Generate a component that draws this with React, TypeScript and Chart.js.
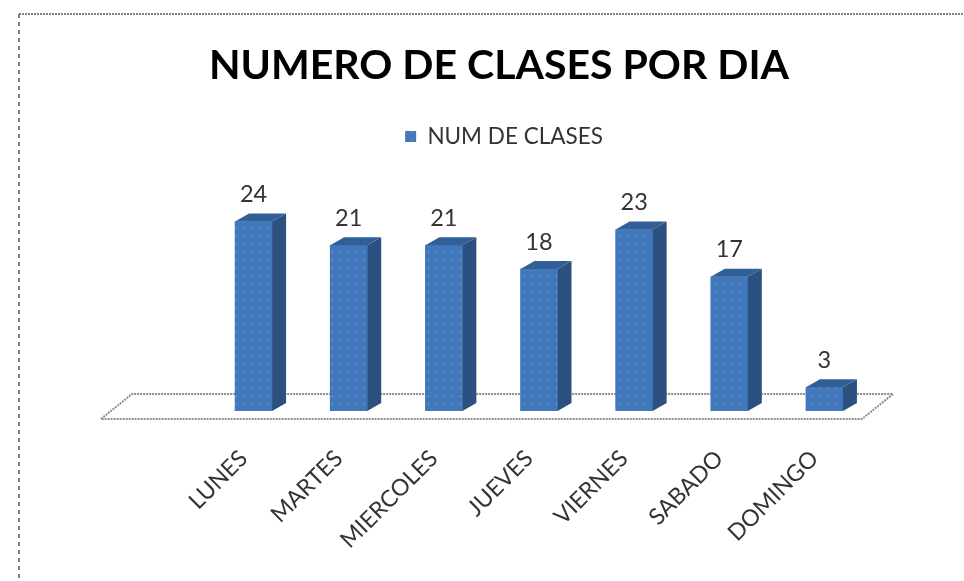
import React, { useEffect, useRef } from "react";
import { Chart, registerables } from "chart.js";

Chart.register(...registerables);

const categories = ["LUNES", "MARTES", "MIERCOLES", "JUEVES", "VIERNES", "SABADO", "DOMINGO"];
const clases = [24, 21, 21, 18, 23, 17, 3];
const seriesName = "NUM DE CLASES";
const titleText = "NUMERO DE CLASES POR DIA";
const FONT = "Lato, 'Open Sans', sans-serif";

const DX = 14;
const DY = 8;

function dither(a: string, b: string, c: string) {
  const cv = document.createElement("canvas");
  cv.width = 8;
  cv.height = 8;
  const g = cv.getContext("2d")!;
  for (let y = 0; y < 8; y++)
    for (let x = 0; x < 8; x++) {
      g.fillStyle = x % 8 === 4 && y % 8 === 4 ? c : (x + y) % 2 === 0 ? a : b;
      g.fillRect(x, y, 1, 1);
    }
  return g.createPattern(cv, "repeat")!;
}

const decor = {
  id: "decor",
  afterLayout(chart: any) {
    const shift = (box: any, dx: number) => {
      box.left += dx;
      box.right += dx;
    };
    shift(chart.titleBlock, 499 - (chart.titleBlock.left + chart.titleBlock.right) / 2);
    shift(chart.legend, 504 - (chart.legend.left + chart.legend.right) / 2);
  },
  beforeDatasetsDraw(chart: any) {
    const { ctx, chartArea, scales } = chart;
    const y0 = scales.y.getPixelForValue(0);
    const l = chartArea.left;
    const r = chartArea.right;
    ctx.save();
    ctx.strokeStyle = "#8c8c8c";
    ctx.lineWidth = 2;
    ctx.setLineDash([2, 1]);
    ctx.fillStyle = "#ffffff";
    ctx.beginPath();
    ctx.moveTo(l - 105, y0 + DY);
    ctx.lineTo(l - 74, y0 - 17);
    ctx.lineTo(r + 21, y0 - 17);
    ctx.lineTo(r - 10, y0 + DY);
    ctx.closePath();
    ctx.fill();
    ctx.stroke();
    ctx.restore();
  },
  afterDatasetsDraw(chart: any) {
    const { ctx } = chart;
    const meta = chart.getDatasetMeta(0);
    const side = (chart as any).$side;
    const top = (chart as any).$top;
    ctx.save();
    meta.data.forEach((bar: any, i: number) => {
      const hw = bar.width / 2;
      const xl = bar.x - hw;
      const xr = bar.x + hw;
      ctx.fillStyle = side;
      ctx.beginPath();
      ctx.moveTo(xr, bar.y);
      ctx.lineTo(xr + DX, bar.y - DY);
      ctx.lineTo(xr + DX, bar.base - DY);
      ctx.lineTo(xr, bar.base);
      ctx.closePath();
      ctx.fill();
      ctx.fillStyle = top;
      ctx.beginPath();
      ctx.moveTo(xl, bar.y);
      ctx.lineTo(xl + DX, bar.y - DY);
      ctx.lineTo(xr + DX, bar.y - DY);
      ctx.lineTo(xr, bar.y);
      ctx.closePath();
      ctx.fill();
      ctx.fillStyle = "#333333";
      ctx.font = `23.5px ${FONT}`;
      ctx.textAlign = "center";
      ctx.textBaseline = "middle";
      ctx.fillText(String(clases[i]), bar.x, bar.y - 27);
    });
    ctx.restore();
  },
  beforeDraw(chart: any) {
    const { ctx, width, height } = chart;
    ctx.save();
    ctx.fillStyle = "#ffffff";
    ctx.fillRect(0, 0, width, height);
    ctx.strokeStyle = "#808080";
    ctx.lineWidth = 2;
    ctx.setLineDash([2, 1]);
    ctx.beginPath();
    ctx.moveTo(19, 14);
    ctx.lineTo(width, 14);
    ctx.stroke();
    ctx.setLineDash([4, 4]);
    ctx.beginPath();
    ctx.moveTo(19, 14);
    ctx.lineTo(19, height);
    ctx.stroke();
    ctx.restore();
  },
};

export default function App() {
  const ref = useRef<HTMLCanvasElement>(null);
  useEffect(() => {
    const front = dither("#3a70b6", "#4a80c2", "#7aa4d6");
    const chart: any = new Chart(ref.current!, {
      type: "bar",
      data: {
        labels: categories,
        datasets: [
          {
            label: seriesName,
            data: clases,
            backgroundColor: front,
            barThickness: 37,
          },
        ],
      },
      options: {
        responsive: false,
        animation: false,
        layout: { padding: { left: 206, right: 92, top: 41, bottom: 0 } },
        plugins: {
          title: {
            display: true,
            text: titleText,
            color: "#000000",
            font: { family: FONT, size: 41, weight: "bold" },
            padding: { top: 0, bottom: 18 },
          },
          legend: {
            display: true,
            position: "top",
            labels: {
              color: "#333333",
              font: { family: FONT, size: 22.5 },
              boxWidth: 11,
              boxHeight: 11,
              padding: 17,
            },
          },
          tooltip: { enabled: false },
        },
        scales: {
          x: {
            grid: { display: false },
            border: { display: false },
            afterFit(s: any) {
              s.height = 170;
            },
            ticks: {
              autoSkip: false,
              minRotation: 45,
              maxRotation: 45,
              padding: 26,
              labelOffset: -10,
              color: "#333333",
              font: { family: FONT, size: 23 },
            },
          },
          y: {
            display: false,
            min: 0,
            max: 32.1,
          },
        },
      },
      plugins: [decor],
    });
    chart.$side = dither("#274a78", "#2f5686", "#2f5686");
    chart.$top = dither("#2c5a90", "#35659b", "#35659b");
    chart.draw();
    return () => chart.destroy();
  }, []);
  return (
    <div style={{ position: "absolute", left: 0, top: 0, width: 964, height: 581, overflow: "hidden" }}>
      <canvas ref={ref} width={964} height={581} style={{ display: "block", filter: "blur(0.7px)" }} />
    </div>
  );
}
